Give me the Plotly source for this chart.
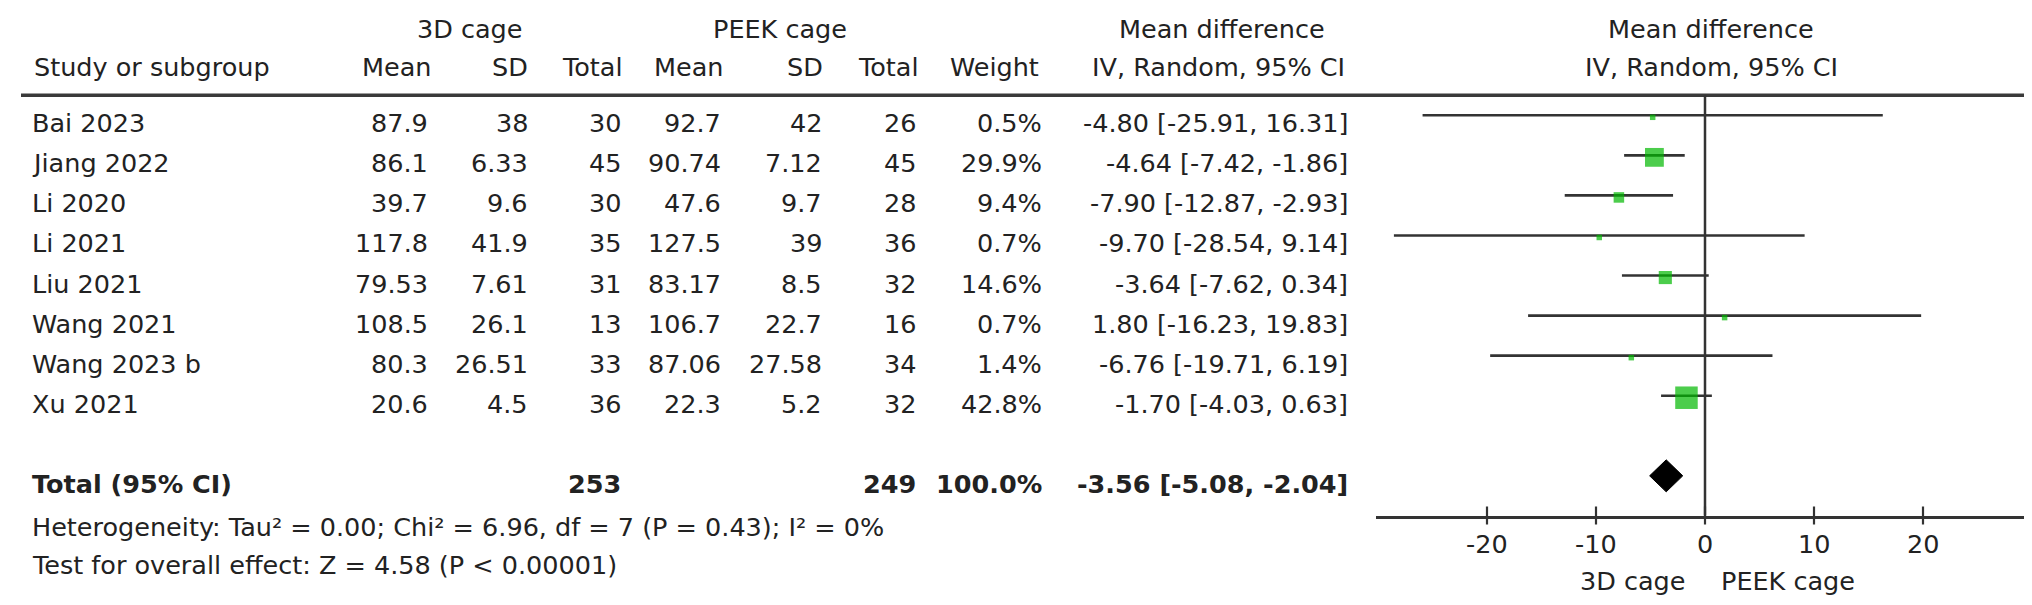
import plotly.graph_objects as go

# ---------------- data ----------------
studies = ["Bai 2023", "Jiang 2022", "Li 2020", "Li 2021", "Liu 2021",
           "Wang 2021", "Wang 2023 b", "Xu 2021"]
mean_3d = ["87.9", "86.1", "39.7", "117.8", "79.53", "108.5", "80.3", "20.6"]
sd_3d = ["38", "6.33", "9.6", "41.9", "7.61", "26.1", "26.51", "4.5"]
n_3d = [30, 45, 30, 35, 31, 13, 33, 36]
mean_peek = ["92.7", "90.74", "47.6", "127.5", "83.17", "106.7", "87.06", "22.3"]
sd_peek = ["42", "7.12", "9.7", "39", "8.5", "22.7", "27.58", "5.2"]
n_peek = [26, 45, 28, 36, 32, 16, 34, 32]
weight = [0.5, 29.9, 9.4, 0.7, 14.6, 0.7, 1.4, 42.8]
md = [-4.80, -4.64, -7.90, -9.70, -3.64, 1.80, -6.76, -1.70]
ci_lo = [-25.91, -7.42, -12.87, -28.54, -7.62, -16.23, -19.71, -4.03]
ci_hi = [16.31, -1.86, -2.93, 9.14, 0.34, 19.83, 6.19, 0.63]

total_label = "Total (95% CI)"
total_n_3d = 253
total_n_peek = 249
total_weight = 100.0
total_md = -3.56
total_lo = -5.08
total_hi = -2.04

heterogeneity = "Heterogeneity: Tau² = 0.00; Chi² = 6.96, df = 7 (P = 0.43); I² = 0%"
overall = "Test for overall effect: Z = 4.58 (P < 0.00001)"

tick_vals = [-20, -10, 0, 10, 20]
tick_text = ["-20", "-10", "0", "10", "20"]
favours = ["3D cage", "PEEK cage"]
group_names = ["3D cage", "PEEK cage"]
col_headers = ["Study or subgroup", "Mean", "SD", "Total", "Mean", "SD", "Total", "Weight"]
md_header = ["Mean difference", "IV, Random, 95% CI"]

# ---------------- layout constants (pixels) ----------------
W, H = 2032, 605
FONT = "DejaVu Sans, Liberation Sans, Arial, sans-serif"
FS = 25.5
TXT = "#222222"
LINE = "#333333"
GREEN = "#00b800"

ROW0 = 107.3      # y of first CI line
ROWH = 40.06      # row spacing
TEXT_OFF = 8      # text centre sits below the CI line
SHIFT = -4        # global vertical text correction
PLOT_TOP = 87.3   # header rule
AXIS_Y = 507.5    # x axis line
RULE_L, RULE_R = 13, 2020
X_LEFT, X_RIGHT = 1368, 2020
X_ZERO, X_SCALE = 1697, 10.9
LEFT_X = 22

def px(x):
    return x / W

def py(y):
    return 1 - y / H

def row_px(i):
    return ROW0 + ROWH * i

annotations = []

def text(x, y, s, anchor="right", bold=False, xref="paper"):
    if bold:
        s = "<b>" + s + "</b>"
    annotations.append(dict(
        x=px(x) if xref == "paper" else x, y=py(y), xref=xref, yref="paper",
        text=s, showarrow=False, xanchor=anchor, yanchor="middle",
        font=dict(family=FONT, size=FS, color=TXT),
    ))

# headers
yh1, yh2 = 25 + SHIFT, 63 + SHIFT
text(462, yh1, group_names[0], "center")
text(772, yh1, group_names[1], "center")
text(1214, yh1, md_header[0], "center")
text(1703, yh1, md_header[0], "center")
text(LEFT_X + 2, yh2, col_headers[0], "left")
hdr_right = [425, 522, 617, 717, 817, 913, 1033]
for xr, h in zip(hdr_right, col_headers[1:]):
    text(xr, yh2, h, "right")
text(1210, yh2, md_header[1], "center")
text(1703, yh2, md_header[1], "center")

# study rows
col_right = [422, 522, 615, 715, 816, 910, 1036, 1342]
for i, s in enumerate(studies):
    y = row_px(i) + TEXT_OFF
    text(LEFT_X, y, s, "left")
    vals = [mean_3d[i], sd_3d[i], str(n_3d[i]), mean_peek[i], sd_peek[i],
            str(n_peek[i]), f"{weight[i]:.1f}%",
            f"{md[i]:.2f} [{ci_lo[i]:.2f}, {ci_hi[i]:.2f}]"]
    for xr, v in zip(col_right, vals):
        text(xr, y, v, "right")

# total row
ti = len(studies) + 1
yt = row_px(ti) + TEXT_OFF
text(LEFT_X, yt, total_label, "left", bold=True)
text(col_right[2], yt, str(total_n_3d), "right", bold=True)
text(col_right[5], yt, str(total_n_peek), "right", bold=True)
text(col_right[6], yt, f"{total_weight:.1f}%", "right", bold=True)
text(col_right[7], yt, f"{total_md:.2f} [{total_lo:.2f}, {total_hi:.2f}]", "right", bold=True)

text(LEFT_X, 523 + SHIFT, heterogeneity, "left")
text(LEFT_X, 561 + SHIFT, overall, "left")

# tick labels and favours labels
for v, t in zip(tick_vals, tick_text):
    text(v, 540 + SHIFT, t, "center", xref="x")
text(1680, 573, favours[0], "right")
text(1711, 573, favours[1], "left")

# ---------------- forest plot ----------------
fig = go.Figure()

cx, cy = [], []
for i in range(len(studies)):
    cx += [ci_lo[i], ci_hi[i], None]
    cy += [i, i, None]
fig.add_trace(go.Scatter(x=cx, y=cy, mode="lines",
                         line=dict(color=LINE, width=2.6), hoverinfo="skip"))

sizes = [max(5.5, 22.5 * (w / max(weight)) ** 0.5) for w in weight]
fig.add_trace(go.Scatter(x=md, y=[i + 0.05 for i in range(len(studies))],
                         mode="markers",
                         marker=dict(symbol="square", size=sizes, color=GREEN,
                                     line=dict(width=0)),
                         cliponaxis=False, hoverinfo="skip"))

hd = 16 / ROWH
fig.add_trace(go.Scatter(x=[total_lo, total_md, total_hi, total_md, total_lo],
                         y=[ti, ti - hd, ti, ti + hd, ti],
                         mode="lines", fill="toself", fillcolor="black",
                         line=dict(color="black", width=1), hoverinfo="skip"))

x_range = [(X_LEFT - X_ZERO) / X_SCALE, (X_RIGHT - X_ZERO) / X_SCALE]
y_range = [(AXIS_Y - ROW0) / ROWH, (PLOT_TOP - ROW0) / ROWH]
dom_h = AXIS_Y - PLOT_TOP

shapes = [
    # header rule
    dict(type="line", xref="paper", yref="paper", x0=px(RULE_L), x1=px(RULE_R),
         y0=py(PLOT_TOP), y1=py(PLOT_TOP), line=dict(color="#3a3a3a", width=3.5)),
    # zero line
    dict(type="line", xref="x", yref="y domain", x0=0, x1=0, y0=0, y1=1,
         line=dict(color=LINE, width=2.5)),
]
for v in tick_vals:
    shapes.append(dict(type="line", xref="x", yref="y domain", x0=v, x1=v,
                       y0=-9 / dom_h, y1=9 / dom_h, line=dict(color=LINE, width=2.2)))

fig.update_layout(
    width=W, height=H, margin=dict(l=0, r=0, t=0, b=0),
    paper_bgcolor="white", plot_bgcolor="white", showlegend=False,
    font=dict(family=FONT, size=FS, color=TXT),
    xaxis=dict(domain=[px(X_LEFT), px(X_RIGHT)], range=x_range,
               showgrid=False, zeroline=False, showline=True,
               linecolor=LINE, linewidth=2.8, ticks="", showticklabels=False,
               fixedrange=True),
    yaxis=dict(domain=[py(AXIS_Y), py(PLOT_TOP)], range=y_range,
               showgrid=False, zeroline=False, showline=False,
               showticklabels=False, ticks="", fixedrange=True),
    shapes=shapes,
    annotations=annotations,
)

fig.write_html("out.html", config={"displayModeBar": False})
